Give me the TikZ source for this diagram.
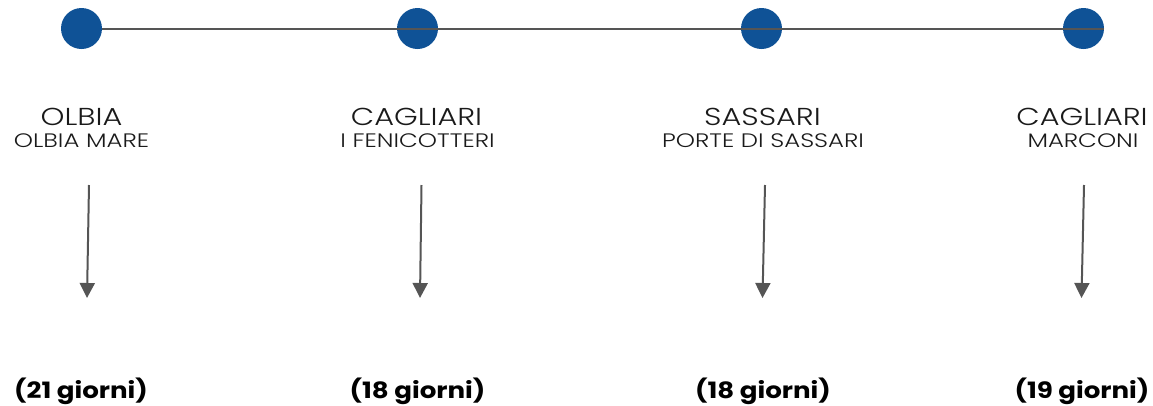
\documentclass[tikz,border=0pt]{standalone}
\usepackage{fontspec}
\setmainfont{Poppins}
\newfontfamily\lightfont{Poppins Light}[FakeStretch=1.24]
\newfontfamily\venuefont{Poppins Light}[FakeStretch=1.25]
\newfontfamily\daysfont{Poppins Bold}[FakeStretch=1.16]
\usetikzlibrary{arrows.meta}
\definecolor{dotblue}{HTML}{0F5296}
\definecolor{linegray}{HTML}{555555}
\definecolor{txt}{HTML}{1A1A1A}
\tikzset{
  dot/.style={circle,fill=dotblue,minimum size=41pt,inner sep=0pt},
  city/.style={anchor=base,inner sep=0pt,text=txt,font=\lightfont\fontsize{24.5}{24.5}\selectfont},
  venue/.style={anchor=base,inner sep=0pt,text=txt,font=\venuefont\fontsize{19.5}{19.5}\selectfont},
  days/.style={anchor=base,inner sep=0pt,text=black,font=\daysfont\fontsize{22.5}{22.5}\selectfont},
  conn/.style={draw=linegray,line width=2pt},
  down/.style={draw=linegray,line width=2pt,-{Triangle[length=15pt,width=15pt]}}
}
\begin{document}
\begin{tikzpicture}[x=1pt,y=-1pt]
\useasboundingbox (0,0) rectangle (1153,405);
\node[dot] (d1) at (81.5,28.5) {};
\node[dot] (d2) at (417.5,28.5) {};
\node[dot] (d3) at (761.5,28.5) {};
\node[dot] (d4) at (1083.5,28.5) {};
\draw[conn] (d1.east) -- (d4.east);

\node[city] (c1) at (81.5,125) {OLBIA};
\node[venue] (v1) at (81.5,147.5) {OLBIA MARE};
\node[city] (c2) at (416.5,125) {CAGLIARI};
\node[venue] (v2) at (417.5,147.5) {I FENICOTTERI};
\node[city] (c3) at (762.5,125) {SASSARI};
\node[venue] (v3) at (763,147.5) {PORTE DI SASSARI};
\node[city] (c4) at (1082,125) {CAGLIARI};
\node[venue] (v4) at (1083,147.5) {MARCONI};

\coordinate (a1s) at (89,185);   \coordinate (a1e) at (87,298);
\coordinate (a2s) at (421.5,185); \coordinate (a2e) at (420,298);
\coordinate (a3s) at (765,185);  \coordinate (a3e) at (762.5,298);
\coordinate (a4s) at (1084,185); \coordinate (a4e) at (1081.5,298);
\draw[down] (a1s) -- (a1e);
\draw[down] (a2s) -- (a2e);
\draw[down] (a3s) -- (a3e);
\draw[down] (a4s) -- (a4e);

\node[days] (g1) at (81,398) {(21 giorni)};
\node[days] (g2) at (417.5,398) {(18 giorni)};
\node[days] (g3) at (763,398) {(18 giorni)};
\node[days] (g4) at (1082,398) {(19 giorni)};
\end{tikzpicture}
\end{document}
